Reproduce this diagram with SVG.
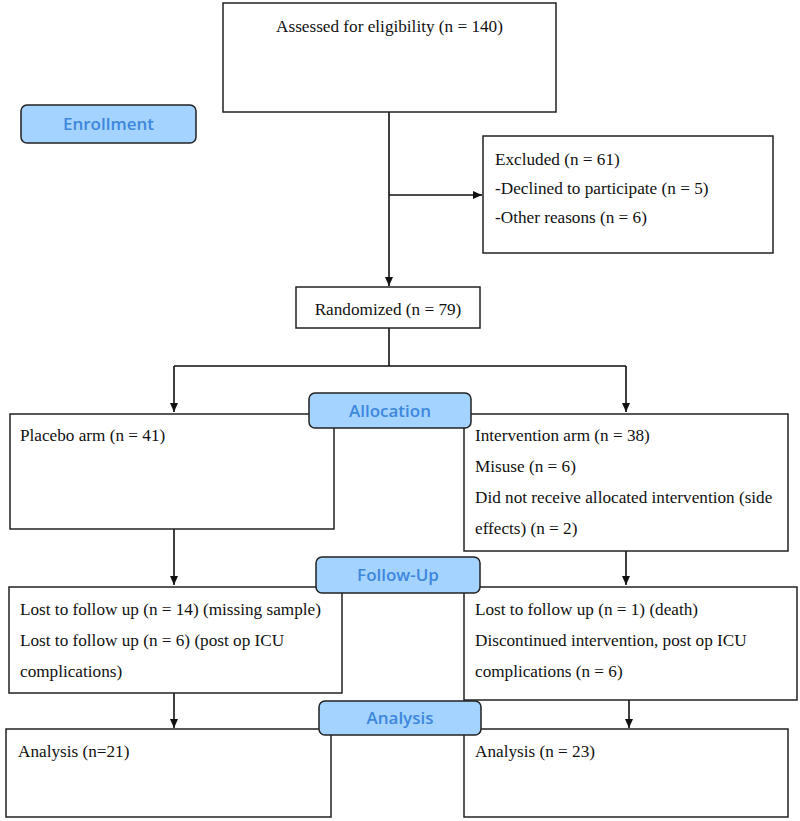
<svg xmlns="http://www.w3.org/2000/svg" width="800" height="821" viewBox="0 0 800 821">
<defs>
<marker id="arr" markerWidth="10" markerHeight="10" refX="9" refY="5" orient="auto" markerUnits="userSpaceOnUse">
<path d="M0,1 L9,5 L0,9 Z" fill="#111"/>
</marker>
<style>
.box{fill:#fff;stroke:#222;stroke-width:1.5}
.lab{fill:#a3d3fe;stroke:#222;stroke-width:1.5}
.t{font-family:"Liberation Serif","Times New Roman",serif;font-size:17.2px;fill:#111}
.lt{font-family:"Open Sans","Noto Sans",sans-serif;font-size:17px;font-weight:600;fill:#3d87dd;text-anchor:middle}
.c{fill:none;stroke:#111;stroke-width:1.6}
</style>
</defs>
<g id="connectors">
<path class="c" d="M389,112 V286" marker-end="url(#arr)"/>
<path class="c" d="M389,195 H482" marker-end="url(#arr)"/>
<path class="c" d="M389,328 V366 M174,366 H626"/>
<path class="c" d="M174,366 V412" marker-end="url(#arr)"/>
<path class="c" d="M626,366 V412" marker-end="url(#arr)"/>
<path class="c" d="M174,529 V585" marker-end="url(#arr)"/>
<path class="c" d="M626,551 V585" marker-end="url(#arr)"/>
<path class="c" d="M174,693 V728" marker-end="url(#arr)"/>
<path class="c" d="M629,700 V728" marker-end="url(#arr)"/>
</g>
<g id="assessed"><rect class="box" x="223" y="3" width="333" height="109"/><text class="t" x="389.5" y="32" text-anchor="middle">Assessed for eligibility (n = 140)</text></g>
<g id="excluded"><rect class="box" x="483" y="136" width="290" height="117"/>
<text class="t" x="495" y="165">Excluded (n = 61)</text>
<text class="t" x="495" y="194">-Declined to participate (n = 5)</text>
<text class="t" x="495" y="223">-Other reasons (n = 6)</text></g>
<g id="randomized"><rect class="box" x="296" y="287" width="184" height="41"/><text class="t" x="388" y="315" text-anchor="middle">Randomized (n = 79)</text></g>
<g id="placebo"><rect class="box" x="10" y="414" width="324" height="115"/><text class="t" x="20" y="441">Placebo arm (n = 41)</text></g>
<g id="intervention"><rect class="box" x="464" y="414" width="324" height="137"/>
<text class="t" x="475" y="441">Intervention arm (n = 38)</text>
<text class="t" x="475" y="472">Misuse (n = 6)</text>
<text class="t" x="475" y="503">Did not receive allocated intervention (side</text>
<text class="t" x="475" y="534">effects) (n = 2)</text></g>
<g id="fu-left"><rect class="box" x="9" y="587" width="333" height="106"/>
<text class="t" x="20" y="615">Lost to follow up (n = 14) (missing sample)</text>
<text class="t" x="20" y="646">Lost to follow up (n = 6) (post op ICU</text>
<text class="t" x="20" y="677">complications)</text></g>
<g id="fu-right"><rect class="box" x="464" y="587" width="333" height="113"/>
<text class="t" x="475" y="615">Lost to follow up (n = 1) (death)</text>
<text class="t" x="475" y="646">Discontinued intervention, post op ICU</text>
<text class="t" x="475" y="677">complications (n = 6)</text></g>
<g id="analysis-left"><rect class="box" x="6" y="729" width="325" height="88"/><text class="t" x="18" y="757">Analysis (n=21)</text></g>
<g id="analysis-right"><rect class="box" x="464" y="729" width="324" height="88"/><text class="t" x="475" y="757">Analysis (n = 23)</text></g>
<g id="label-enrollment"><rect class="lab" x="21" y="105" width="175" height="38" rx="6"/><text class="lt" x="108.5" y="130">Enrollment</text></g>
<g id="label-allocation"><rect class="lab" x="309" y="393" width="162" height="35" rx="6"/><text class="lt" x="390" y="417">Allocation</text></g>
<g id="label-followup"><rect class="lab" x="316" y="557" width="164" height="36" rx="6"/><text class="lt" x="398" y="581">Follow-Up</text></g>
<g id="label-analysis"><rect class="lab" x="319" y="701" width="162" height="34" rx="6"/><text class="lt" x="400" y="724">Analysis</text></g>
</svg>
